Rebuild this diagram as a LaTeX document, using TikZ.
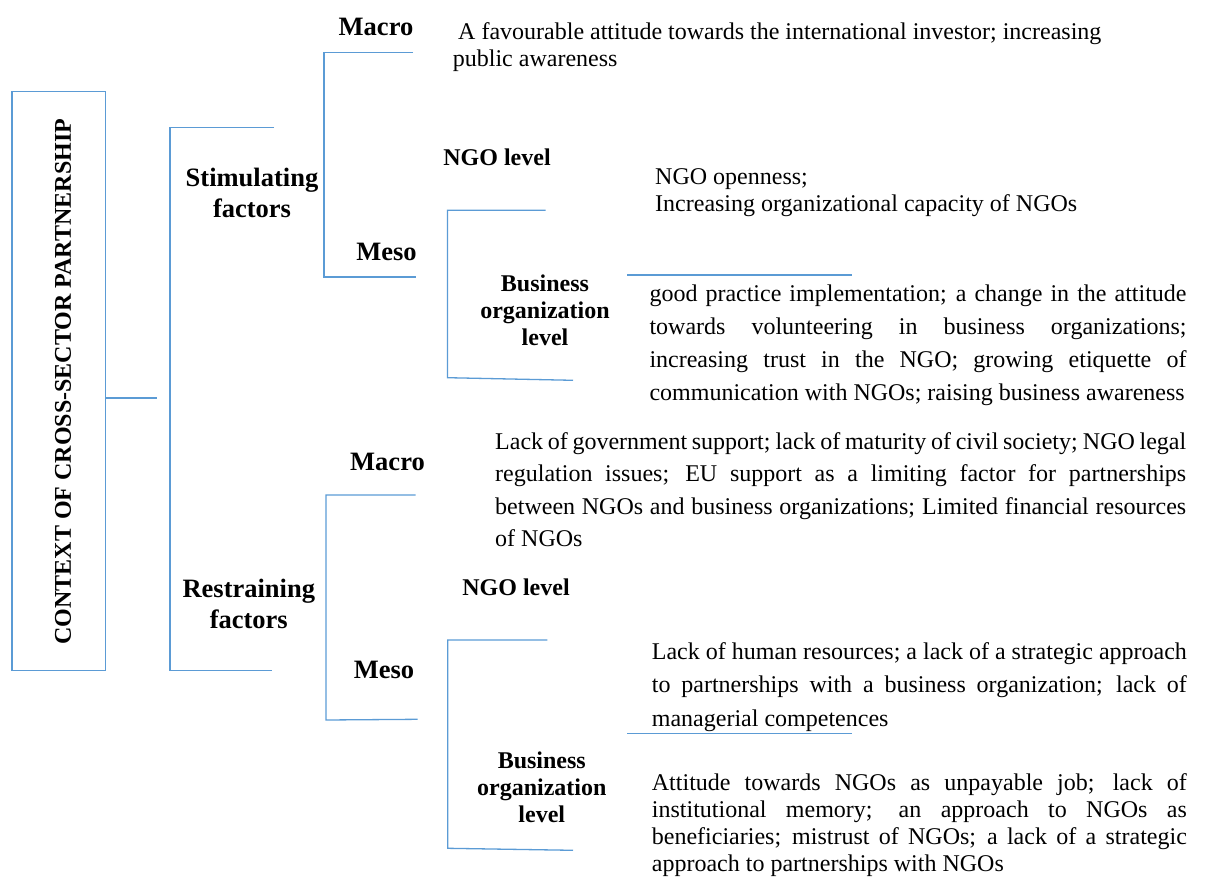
\documentclass[tikz,border=0pt]{standalone}
\usepackage{fontspec}
\setmainfont{Liberation Serif}
\definecolor{lineblue}{RGB}{91,155,213}
\newcommand{\cstack}[2]{\vtop{\baselineskip=#1\lineskiplimit=-100pt\lineskip=0pt\halign{\hfil##\hfil\cr#2\crcr}}}
\newcommand{\lstack}[2]{\vtop{\baselineskip=#1\lineskiplimit=-100pt\lineskip=0pt#2}}
\begin{document}
\begin{tikzpicture}[x=1pt,y=-1pt,
  conn/.style={draw=lineblue, line width=1.3pt},
  biglbl/.style={inner sep=0pt, anchor=base, font=\fontsize{26.5}{31}\selectfont\bfseries},
  midlbl/.style={inner sep=0pt, anchor=base, font=\fontsize{24}{27}\selectfont\bfseries},
  txt/.style={inner sep=0pt, anchor=base west, font=\fontsize{24}{27}\selectfont}]
\useasboundingbox (0,0) rectangle (1205,877);

% main box and title
\node[draw=lineblue, line width=1.3pt, minimum width=93.7pt, minimum height=579pt, inner sep=0pt] (ctx) at (58.85,381.2) {};
\node[rotate=90, inner sep=0pt, font=\fontsize{24}{28}\selectfont\bfseries] (title) at (63,381.7) {CONTEXT OF CROSS-SECTOR PARTNERSHIP};
\coordinate (j0) at (157,398);
\draw[conn] (ctx.east |- j0) -- (j0);

% first-level bracket
\coordinate (b1t) at (274,127.7);
\coordinate (b1tl) at (170,127.7);
\coordinate (b1bl) at (170,670.3);
\coordinate (b1b) at (272.3,670.3);
\draw[conn] (b1t) -- (b1tl) -- (b1bl) -- (b1b);

\node[biglbl] (stim) at (252,186.7) {\cstack{31pt}{Stimulating\cr factors}};
\node[biglbl] (restr) at (248.8,597.3) {\cstack{31pt}{Restraining\cr factors}};

% stimulating bracket
\coordinate (s1t) at (413,52.3);
\coordinate (s1tl) at (324,52.3);
\coordinate (s1bl) at (324,277);
\coordinate (s1b) at (415.7,277);
\draw[conn] (s1t) -- (s1tl) -- (s1bl) -- (s1b);

\node[biglbl] (smacro) at (376,36) {Macro};
\node[biglbl] (smeso) at (386.5,261) {Meso};
\node[midlbl] (sngo) at (497,166) {NGO level};
\node[midlbl] (sbus) at (545,291.7) {\cstack{27pt}{Business\cr organization\cr level}};

\node[txt] (smacrotxt) at (452.7,39.3) {\lstack{27.4pt}{\hbox{\hspace{5.3pt}A favourable attitude towards the international investor; increasing}\hbox{public awareness}}};
\node[txt] (sngotxt) at (655,185) {\lstack{26.7pt}{\hbox{NGO openness;}\hbox{Increasing organizational capacity of NGOs}}};

% stimulating meso bracket
\coordinate (s2t) at (545.7,210.3);
\coordinate (s2tl) at (447.5,210.3);
\coordinate (s2bl) at (447.5,377.7);
\coordinate (s2b) at (573,380.3);
\draw[conn] (s2t) -- (s2tl) -- (s2bl) -- (s2b);
\coordinate (s3l) at (627,275);
\coordinate (s3r) at (852,275);
\draw[conn] (s3l) -- (s3r);

\node[txt] (sbustxt) at (649.3,301.7) {\lstack{33pt}{%
\hbox to 537pt{good practice implementation; a change in the attitude}%
\hbox to 537pt{towards volunteering in business organizations;}%
\hbox to 537pt{increasing trust in the NGO; growing etiquette of}%
\hbox{communication with NGOs; raising business awareness}}};

% restraining bracket
\coordinate (r1t) at (415.7,495);
\coordinate (r1tl) at (326,495);
\coordinate (r1bl) at (326,720);
\coordinate (r1b) at (417.7,719.3);
\draw[conn] (r1t) -- (r1tl) -- (r1bl) -- (r1b);

\node[biglbl] (rmacro) at (387.5,470) {Macro};
\node[biglbl] (rmeso) at (384,678.3) {Meso};
\node[midlbl] (rngo) at (516,595) {NGO level};
\node[midlbl] (rbus) at (541.8,768.3) {\cstack{27.2pt}{Business\cr organization\cr level}};

\node[txt] (rmacrotxt) at (495,449) {\lstack{32.5pt}{%
\hbox to 691pt{Lack of government support; lack of maturity of civil society; NGO legal}%
\hbox to 691pt{regulation issues; EU support as a limiting factor for partnerships}%
\hbox to 691pt{between NGOs and business organizations; Limited financial resources}%
\hbox{of NGOs}}};

% restraining meso bracket
\coordinate (r2t) at (547.3,640);
\coordinate (r2tl) at (447.7,640);
\coordinate (r2bl) at (447.7,848.3);
\coordinate (r2b) at (573,850.3);
\draw[conn] (r2t) -- (r2tl) -- (r2bl) -- (r2b);
\coordinate (r3l) at (627.3,733.7);
\coordinate (r3r) at (852,733.7);
\draw[conn] (r3l) -- (r3r);

\node[txt] (rngotxt) at (651.7,659) {\lstack{33.5pt}{%
\hbox to 535pt{Lack of human resources; a lack of a strategic approach}%
\hbox to 535pt{to partnerships with a business organization; lack of}%
\hbox{managerial competences}}};

\node[txt] (rbustxt) at (651.7,790.7) {\lstack{27pt}{%
\hbox to 535pt{Attitude towards NGOs as unpayable job; lack of}%
\hbox to 535pt{institutional memory; an approach to NGOs as}%
\hbox to 535pt{beneficiaries; mistrust of NGOs; a lack of a strategic}%
\hbox{approach to partnerships with NGOs}}};
\end{tikzpicture}
\end{document}
